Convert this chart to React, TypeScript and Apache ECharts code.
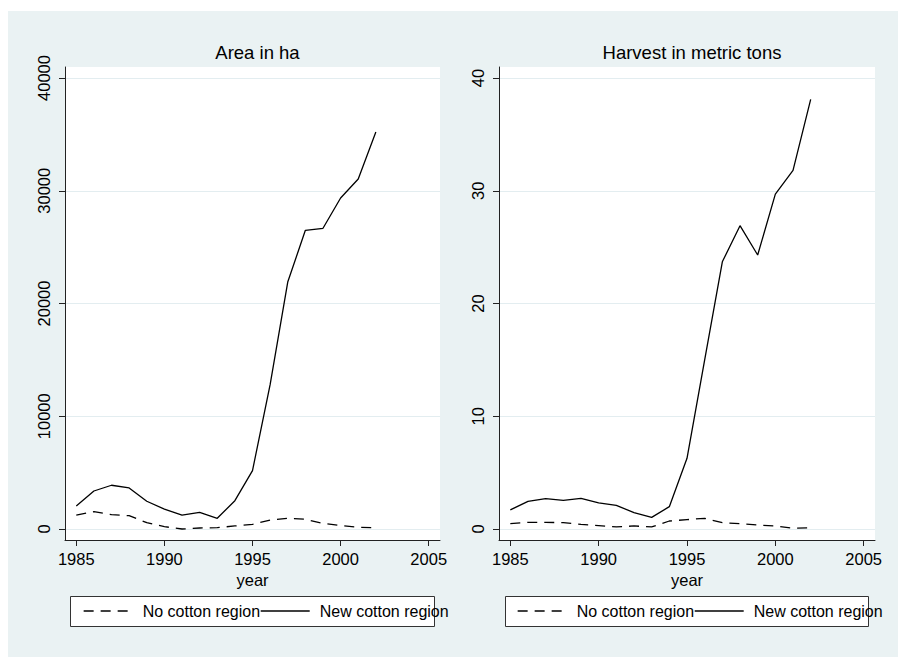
import React, { useEffect, useRef } from "react";
import * as echarts from "echarts";

const years = [1985, 1986, 1987, 1988, 1989, 1990, 1991, 1992, 1993, 1994, 1995, 1996, 1997, 1998, 1999, 2000, 2001, 2002];
const areaNoCotton = [1240, 1540, 1270, 1180, 560, 210, 0, 90, 120, 270, 410, 800, 950, 860, 500, 300, 150, 120];
const areaNewCotton = [2040, 3370, 3880, 3640, 2460, 1770, 1240, 1480, 950, 2510, 5180, 12800, 21900, 26490, 26670, 29360, 31040, 35210];
const harvestNoCotton = [0.47, 0.59, 0.59, 0.56, 0.41, 0.3, 0.18, 0.27, 0.18, 0.71, 0.83, 0.95, 0.56, 0.47, 0.35, 0.27, 0.06, 0.12];
const harvestNewCotton = [1.69, 2.45, 2.69, 2.54, 2.72, 2.31, 2.1, 1.45, 1.03, 1.98, 6.27, 15.0, 23.7, 26.9, 24.3, 29.7, 31.8, 38.1];
const xTicks = [1985, 1990, 1995, 2000, 2005];
const areaTicks = [0, 10000, 20000, 30000, 40000];
const harvestTicks = [0, 10, 20, 30, 40];
const titles = ["Area in ha", "Harvest in metric tons"];
const seriesNames = ["No cotton region", "New cotton region"];

const FONT = "Liberation Sans, Arial, Helvetica, sans-serif";
const AXIS_COLOR = "#222";
const GRID_COLOR = "#e3edf0";

export default function App() {
  const ref = useRef<HTMLDivElement>(null);

  useEffect(() => {
    if (!ref.current) return;
    const chart = echarts.init(ref.current, undefined, { renderer: "svg" });

    const grids = [
      { left: 65, top: 67, width: 375, height: 473 },
      { left: 499, top: 67, width: 376, height: 473 },
    ];
    const pair = (vals: number[]) => years.map((y, i) => [y, vals[i]]);

    const makeX = (gi: number) => ({
      type: "value",
      gridIndex: gi,
      min: 1984.36,
      max: 2005.64,
      name: "year",
      nameLocation: "middle",
      nameGap: 24,
      nameTextStyle: { fontFamily: FONT, fontSize: 16.5, color: "#000" },
      axisLine: { show: true, onZero: false, lineStyle: { color: AXIS_COLOR, width: 1 } },
      axisTick: { show: true, length: 6, customValues: xTicks, lineStyle: { color: AXIS_COLOR } },
      axisLabel: {
        customValues: xTicks,
        margin: 10,
        fontFamily: FONT,
        fontSize: 16.5,
        color: "#000",
        formatter: (v: number) => String(v),
      },
      splitLine: { show: false },
    });
    const makeY = (gi: number, ticks: number[], max: number) => {
      const pad = (max * 11) / 451;
      return {
        type: "value",
        gridIndex: gi,
        min: -pad,
        max: max + pad,
        axisLine: { show: true, onZero: false, lineStyle: { color: AXIS_COLOR, width: 1 } },
        axisTick: { show: true, length: 6, customValues: ticks, lineStyle: { color: AXIS_COLOR } },
        axisLabel: { show: false, customValues: ticks },
        splitLine: { show: true, lineStyle: { color: GRID_COLOR, width: 1 } },
      };
    };

    const lineSeries = (name: string, gi: number, vals: number[], dashed: boolean) => ({
      name,
      type: "line",
      xAxisIndex: gi,
      yAxisIndex: gi,
      data: pair(vals),
      showSymbol: false,
      symbol: "none",
      lineStyle: { color: "#000", width: 1.3, type: dashed ? [10, 7] : "solid" },
      itemStyle: { color: "#000" },
      z: dashed ? 3 : 4,
    });

    const legendFor = (left: number) => ({
      left,
      top: 598,
      orient: "horizontal",
      itemWidth: 49,
      itemHeight: 14,
      itemGap: 0,
      selectedMode: false,
      itemStyle: { opacity: 0 },
      lineStyle: { width: 1.3 },
      textStyle: { fontFamily: FONT, fontSize: 16, color: "#000", padding: [0, 0, 0, 5] },
      data: seriesNames,
    });

    const legendBoxes = [
      { type: "rect", shape: { x: 70.5, y: 596.5, width: 364, height: 30 }, style: { fill: "#fff", stroke: "#333", lineWidth: 1 }, z: 0 },
      { type: "rect", shape: { x: 505.5, y: 596.5, width: 363, height: 30 }, style: { fill: "#fff", stroke: "#333", lineWidth: 1 }, z: 0 },
    ];

    const option: any = {
      animation: false,
      backgroundColor: "transparent",
      title: [
        { text: titles[0], left: 252.5, top: 38, textAlign: "center", textStyle: { fontFamily: FONT, fontSize: 18.5, fontWeight: "normal", color: "#000" } },
        { text: titles[1], left: 687, top: 38, textAlign: "center", textStyle: { fontFamily: FONT, fontSize: 18.5, fontWeight: "normal", color: "#000" } },
      ],
      grid: grids.map((g) => ({ ...g, show: true, backgroundColor: "#fff", borderWidth: 0, containLabel: false })),
      xAxis: [makeX(0), makeX(1)],
      yAxis: [makeY(0, areaTicks, 40000), makeY(1, harvestTicks, 40)],
      legend: [legendFor(78), legendFor(512)],
      graphic: legendBoxes,
      series: [
        lineSeries(seriesNames[0], 0, areaNoCotton, true),
        lineSeries(seriesNames[1], 0, areaNewCotton, false),
        lineSeries(seriesNames[0], 1, harvestNoCotton, true),
        lineSeries(seriesNames[1], 1, harvestNewCotton, false),
      ],
    };
    chart.setOption(option);

    // Rotated y-axis tick labels positioned through the library's own scales
    const yLabelEls: any[] = [];
    const addYLabels = (gi: number, ticks: number[]) => {
      const axisX = grids[gi].left;
      ticks.forEach((v) => {
        const py = chart.convertToPixel({ yAxisIndex: gi } as any, v) as number;
        yLabelEls.push({
          type: "group",
          x: axisX - 21,
          y: py,
          rotation: Math.PI / 2,
          z: 5,
          children: [
            {
              type: "text",
              x: 0,
              y: 0,
              style: {
                text: String(v),
                x: 0,
                y: 0,
                align: "center",
                verticalAlign: "middle",
                textAlign: "center",
                textVerticalAlign: "middle",
                fontFamily: FONT,
                fontSize: 16.5,
                fill: "#000",
              },
            },
          ],
        });
      });
    };
    addYLabels(0, areaTicks);
    addYLabels(1, harvestTicks);
    chart.setOption({ graphic: [...legendBoxes, ...yLabelEls] });

    return () => chart.dispose();
  }, []);

  return (
    <div style={{ position: "fixed", left: 0, top: 0, width: 898, height: 657, background: "#fff" }}>
      <div style={{ position: "absolute", left: 8, top: 11, width: 890, height: 646, background: "#eaf2f3" }} />
      <div ref={ref} style={{ position: "absolute", left: 0, top: 0, width: 898, height: 657 }} />
    </div>
  );
}
